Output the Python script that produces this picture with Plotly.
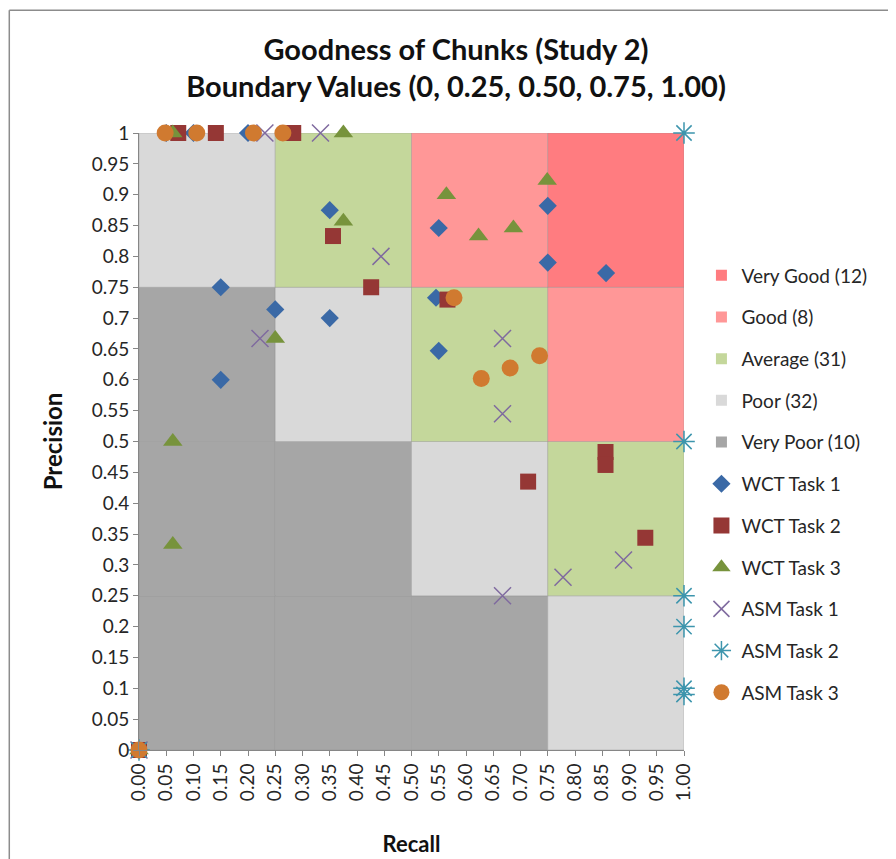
"""Goodness of chunks scatter — precision vs recall over graded regions."""
import plotly.graph_objects as go

# region grid: boundaries and grade of each cell (rows = precision bands, low -> high)
bounds = [0, 0.25, 0.50, 0.75, 1.00]
grade_grid = [
    ["Very Poor", "Very Poor", "Very Poor", "Poor"],
    ["Very Poor", "Very Poor", "Poor", "Average"],
    ["Very Poor", "Poor", "Average", "Good"],
    ["Poor", "Average", "Good", "Very Good"],
]
grades = ["Very Good", "Good", "Average", "Poor", "Very Poor"]
grade_counts = [12, 8, 31, 32, 10]
grade_colors = {
    "Very Good": "#FF7C80", "Good": "#FF9797", "Average": "#C4D79B",
    "Poor": "#D9D9D9", "Very Poor": "#A6A6A6",
}

# series values (recall, precision)
wct1_recall = [0, 0.05, 0.10, 0.20, 0.15, 0.25, 0.35, 0.15, 0.35, 0.55, 0.75, 0.75, 0.857, 0.545, 0.55]
wct1_prec = [0, 1, 1, 1, 0.75, 0.714, 0.875, 0.60, 0.70, 0.846, 0.882, 0.79, 0.773, 0.733, 0.647]
wct2_recall = [0, 0.072, 0.141, 0.283, 0.356, 0.426, 0.566, 0.714, 0.856, 0.856, 0.929]
wct2_prec = [0, 1, 1, 1, 0.833, 0.75, 0.73, 0.435, 0.483, 0.462, 0.344]
wct3_recall = [0, 0.062, 0.375, 0.375, 0.564, 0.623, 0.687, 0.749, 0.25, 0.062, 0.062]
wct3_prec = [0, 1, 1, 0.857, 0.90, 0.833, 0.846, 0.923, 0.667, 0.50, 0.333]
asm1_recall = [0, 0.231, 0.333, 0.444, 0.222, 0.667, 0.667, 0.667, 0.778, 0.889]
asm1_prec = [0, 1, 1, 0.80, 0.667, 0.667, 0.545, 0.25, 0.28, 0.308]
asm2_recall = [0, 1, 1, 1, 1, 1, 1]
asm2_prec = [0, 1, 0.50, 0.25, 0.20, 0.10, 0.09]
asm3_recall = [0, 0.048, 0.106, 0.21, 0.264, 0.578, 0.628, 0.681, 0.735]
asm3_prec = [0, 1, 1, 1, 1, 0.733, 0.602, 0.619, 0.639]

y_ticks = [i * 0.05 for i in range(21)]
y_labels = ["0", "0.05", "0.1", "0.15", "0.2", "0.25", "0.3", "0.35", "0.4", "0.45", "0.5",
            "0.55", "0.6", "0.65", "0.7", "0.75", "0.8", "0.85", "0.9", "0.95", "1"]
x_labels = [f"{v:.2f}" for v in y_ticks]

FONT = "Lato, 'Noto Sans', sans-serif"

fig = go.Figure()

# coloured region cells
shapes = []
for r, row in enumerate(grade_grid):
    for c, g in enumerate(row):
        shapes.append(dict(
            type="rect", xref="x", yref="y", layer="below",
            x0=bounds[c], x1=bounds[c + 1], y0=bounds[r], y1=bounds[r + 1],
            fillcolor=grade_colors[g], line=dict(color="rgba(140,140,140,0.35)", width=1),
        ))
# outer chart frame (top + left edges visible in the crop)
shapes.append(dict(type="line", xref="paper", yref="paper", x0=-0.238, x1=1.5,
                   y0=1.199, y1=1.199, line=dict(color="#8C8C8C", width=1.5)))
shapes.append(dict(type="line", xref="paper", yref="paper", x0=-0.238, x1=-0.238,
                   y0=-0.3, y1=1.199, line=dict(color="#8C8C8C", width=1.5)))

# legend entries for the regions
for i, g in enumerate(grades):
    fig.add_trace(go.Scatter(
        x=[None], y=[None], mode="markers", name=f"{g} ({grade_counts[i]})",
        marker=dict(symbol="square", size=11, color=grade_colors[g]),
        legendgroup=g,
    ))

series = [
    ("WCT Task 1", wct1_recall, wct1_prec, dict(symbol="diamond", size=14, color="#3A69A6")),
    ("WCT Task 2", wct2_recall, wct2_prec, dict(symbol="square", size=16, color="#953735")),
    ("WCT Task 3", wct3_recall, wct3_prec, dict(symbol="triangle-up", size=17, color="#77933C")),
    ("ASM Task 1", asm1_recall, asm1_prec,
     dict(symbol="x-thin-open", size=17, color="#7F6A9F", line=dict(color="#7F6A9F", width=1.5))),
    ("ASM Task 2", asm2_recall, asm2_prec,
     dict(symbol="asterisk-open", size=18, color="#3D95AD", line=dict(color="#3D95AD", width=1.5))),
    ("ASM Task 3", asm3_recall, asm3_prec, dict(symbol="circle", size=17, color="#D07A30")),
]
for name, xs, ys, mk in series:
    fig.add_trace(go.Scatter(
        x=xs, y=ys, mode="markers", name=name, marker=mk,
        cliponaxis=False, legendgroup=name,
    ))

fig.update_layout(
    width=896, height=859,
    margin=dict(l=131, r=220, t=125, b=117),
    paper_bgcolor="white", plot_bgcolor="white",
    font=dict(family=FONT, size=19, color="#262626"),
    title=dict(
        text="<b>Goodness of Chunks (Study 2)<br>Boundary Values (0, 0.25, 0.50, 0.75, 1.00)</b>",
        x=0.5, xanchor="center", xref="container", y=0.94, yanchor="top",
        font=dict(size=29, color="#111111"),
    ),
    shapes=shapes,
    showlegend=True,
    legend=dict(
        x=1.032, y=0.80, xanchor="left", yanchor="top",
        font=dict(size=19, color="#262626"), tracegroupgap=14,
        bgcolor="rgba(0,0,0,0)",
    ),
    xaxis=dict(
        range=[0, 1], tickvals=y_ticks, ticktext=x_labels, tickangle=-90,
        showgrid=False, zeroline=False, showline=True, linecolor="#868686",
        ticks="outside", ticklen=5, tickcolor="#868686",
        title=dict(text="<b>Recall</b>", font=dict(size=22, color="#111111"), standoff=36),
    ),
    yaxis=dict(
        range=[0, 1], tickvals=y_ticks, ticktext=y_labels,
        showgrid=False, zeroline=False, showline=True, linecolor="#868686",
        ticks="outside", ticklen=5, tickcolor="#868686",
        title=dict(text="<b>Precision</b>", font=dict(size=24, color="#111111"), standoff=22),
    ),
)

fig.write_html("out.html")
